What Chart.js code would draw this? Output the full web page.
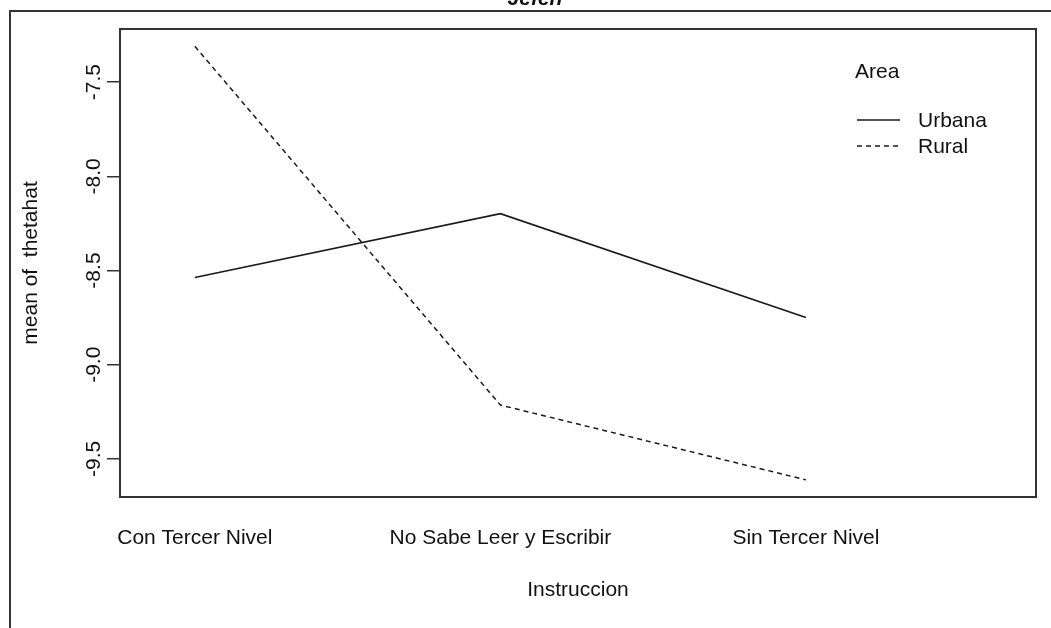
<!DOCTYPE html>
<html lang="es">
<head>
<meta charset="UTF-8">
<title>Interaction plot</title>
<script src="https://cdn.jsdelivr.net/npm/chart.js"></script>
<style>
    html, body {
      margin: 0;
      padding: 0;
      background: #fff;
    }
    #wrap {
      width: 1051px;
      height: 628px;
    }
</style>
</head>
<body>
<div id="wrap"><canvas id="chart" width="1051" height="628"></canvas></div>

<script>
    // data
    const categories = ['Con Tercer Nivel', 'No Sabe Leer y Escribir', 'Sin Tercer Nivel'];
    const urbana = [-8.537, -8.198, -8.749];
    const rural = [-7.31, -9.214, -9.611];
    const yTicks = [-9.5, -9.0, -8.5, -8.0, -7.5];

    const FONT = "'Liberation Sans', Arial, sans-serif";
    const INK = '#1a1a1a';

    const toPoints = (vals) => vals.map((v, i) => ({ x: i + 1, y: v }));

    // outer frame, plot box, cut-off title and the "Area" legend
    const framePlugin = {
      id: 'frame',
      afterDraw(chart) {
        const ctx = chart.ctx;
        const a = chart.chartArea;
        ctx.save();
        ctx.strokeStyle = '#333';
        ctx.lineWidth = 2;
        ctx.beginPath();
        ctx.moveTo(10, 640);
        ctx.lineTo(10, 11);
        ctx.lineTo(1060, 11);
        ctx.stroke();
        ctx.strokeRect(a.left, a.top, a.right - a.left, a.bottom - a.top);

        ctx.fillStyle = '#111';
        ctx.font = 'italic bold 21px ' + FONT;
        ctx.textAlign = 'center';
        ctx.textBaseline = 'alphabetic';
        ctx.fillText('Jefen', 535, 5);

        ctx.textAlign = 'left';
        ctx.textBaseline = 'middle';
        ctx.font = '21px ' + FONT;
        ctx.fillText('Area', 855, 72);
        ctx.strokeStyle = INK;
        ctx.lineWidth = 1.5;
        chart.data.datasets.forEach((ds, i) => {
          const y = 120 + i * 26;
          ctx.setLineDash(ds.borderDash || []);
          ctx.beginPath();
          ctx.moveTo(857, y);
          ctx.lineTo(900, y);
          ctx.stroke();
          ctx.fillText(ds.label, 918, y + 1);
        });
        ctx.restore();
      }
    };

    new Chart(document.getElementById('chart').getContext('2d'), {
      type: 'line',
      data: {
        datasets: [
          {
            label: 'Urbana',
            data: toPoints(urbana),
            borderColor: INK,
            borderWidth: 1.7,
            pointRadius: 0,
            tension: 0
          },
          {
            label: 'Rural',
            data: toPoints(rural),
            borderColor: INK,
            borderWidth: 1.5,
            borderDash: [5, 4],
            pointRadius: 0,
            tension: 0
          }
        ]
      },
      options: {
        responsive: false,
        animation: false,
        layout: { padding: { top: 29, right: 15, left: 0, bottom: 0 } },
        plugins: {
          legend: { display: false },
          tooltip: { enabled: false }
        },
        scales: {
          x: {
            type: 'linear',
            min: 0.755,
            max: 3.753,
            afterFit: (s) => { s.height = 131; },
            afterBuildTicks: (s) => { s.ticks = categories.map((c, i) => ({ value: i + 1 })); },
            ticks: {
              color: '#111',
              font: { family: FONT, size: 21 },
              padding: 29,
              maxRotation: 0,
              callback: (v) => categories[v - 1]
            },
            grid: { display: false, drawTicks: false },
            border: { display: false },
            title: {
              display: true,
              text: 'Instruccion',
              color: '#111',
              font: { family: FONT, size: 21 },
              padding: { top: 0, bottom: 25 }
            }
          },
          y: {
            min: -9.702,
            max: -7.218,
            afterFit: (s) => { s.width = 120; },
            afterBuildTicks: (s) => { s.ticks = yTicks.map((v) => ({ value: v })); },
            ticks: {
              color: '#111',
              font: { family: FONT, size: 21 },
              minRotation: 90,
              maxRotation: 90,
              crossAlign: 'center',
              padding: -5,
              callback: (v) => v.toFixed(1)
            },
            grid: { drawOnChartArea: false, drawTicks: true, tickLength: 13, color: '#333', lineWidth: 1.5 },
            border: { display: false },
            title: {
              display: true,
              text: 'mean of  thetahat',
              color: '#111',
              font: { family: FONT, size: 21 },
              padding: { top: 19, bottom: 0 }
            }
          }
        }
      },
      plugins: [framePlugin]
    });
</script>
</body>
</html>
